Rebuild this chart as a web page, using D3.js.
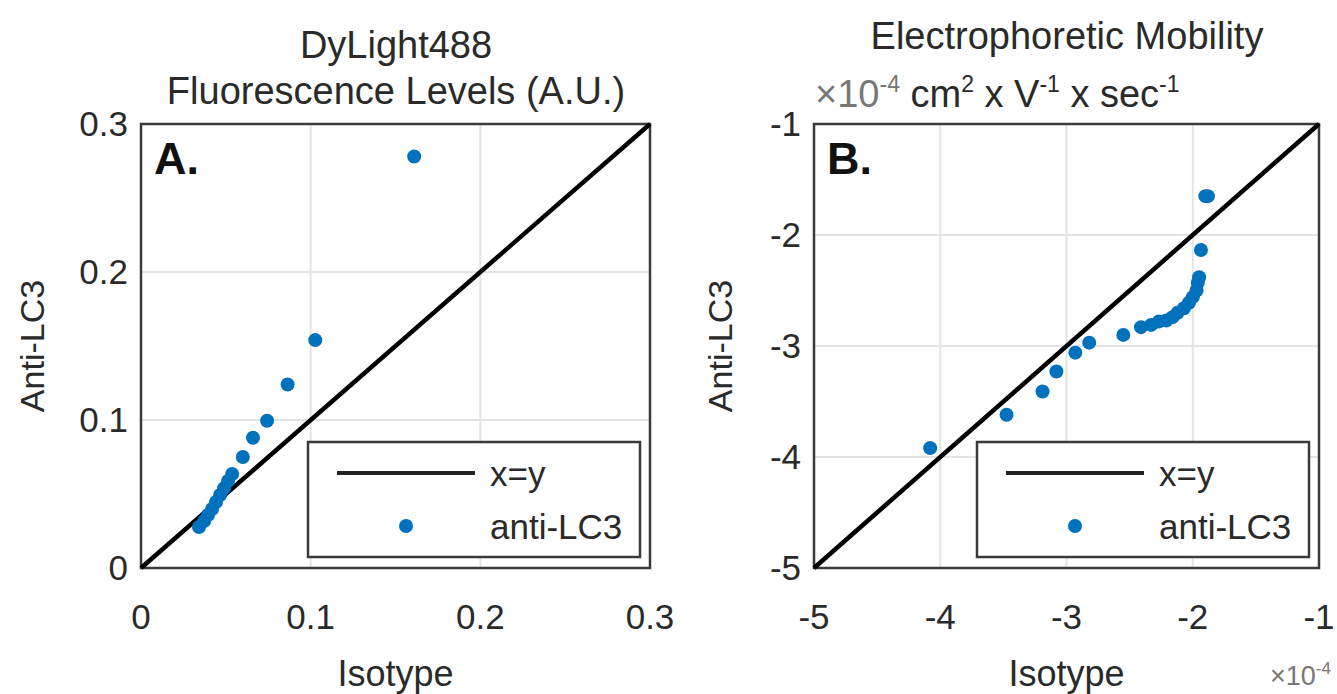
<!DOCTYPE html>
<html>
<head>
<meta charset="utf-8">
<script src="https://cdn.jsdelivr.net/npm/d3@7"></script>
<style>
  body { margin: 0; background: #fff; }
  text { font-family: "Liberation Sans", Arial, sans-serif; fill: #2a2a2a; }
</style>
</head>
<body>
<script>
// panel A: DyLight488 fluorescence
var isoA  = [0.161, 0.1027, 0.0864, 0.0743, 0.066, 0.060, 0.0537, 0.0513, 0.049, 0.0466, 0.0442, 0.0419, 0.0395, 0.0372, 0.0342];
var antiA = [0.278, 0.154, 0.124, 0.0995, 0.088, 0.075, 0.0635, 0.0588, 0.054, 0.0493, 0.0446, 0.0399, 0.0358, 0.0318, 0.0277];
var ticksA = [0, 0.1, 0.2, 0.3];
var tickLabelsA = ["0", "0.1", "0.2", "0.3"];

// panel B: electrophoretic mobility (x 10^-4)
var isoB  = [-4.08, -3.475, -3.19, -3.08, -2.93, -2.82, -2.55, -2.41, -2.33, -2.27, -2.21, -2.16, -2.12, -2.07, -2.03, -2.00, -1.97, -1.96, -1.95, -1.935, -1.90, -1.88];
var antiB = [-3.92, -3.62, -3.41, -3.23, -3.06, -2.97, -2.90, -2.83, -2.81, -2.78, -2.77, -2.74, -2.70, -2.66, -2.61, -2.56, -2.50, -2.43, -2.38, -2.135, -1.65, -1.65];
var ticksB = [-5, -4, -3, -2, -1];
var tickLabelsB = ["-5", "-4", "-3", "-2", "-1"];

var legendLabels = ["x=y", "anti-LC3"];

var W = 1337, H = 694;
var svg = d3.select("body").append("svg")
    .attr("width", W)
    .attr("height", H);

var plotTop = 124, plotBottom = 568;
var fs = 35;

function panel(opt) {
  var x = d3.scaleLinear().domain(opt.domain).range([opt.left, opt.right]);
  var y = d3.scaleLinear().domain(opt.domain).range([plotBottom, plotTop]);
  var g = svg.append("g");

  // grid
  g.selectAll(".gx").data(opt.ticks.slice(1, -1)).enter().append("line")
    .attr("x1", function(d) { return x(d); }).attr("x2", function(d) { return x(d); })
    .attr("y1", plotTop).attr("y2", plotBottom)
    .attr("stroke", "#e4e4e4").attr("stroke-width", 2);
  g.selectAll(".gy").data(opt.ticks.slice(1, -1)).enter().append("line")
    .attr("y1", function(d) { return y(d); }).attr("y2", function(d) { return y(d); })
    .attr("x1", opt.left).attr("x2", opt.right)
    .attr("stroke", "#e4e4e4").attr("stroke-width", 2);

  // axes box
  g.append("rect")
    .attr("x", opt.left).attr("y", plotTop)
    .attr("width", opt.right - opt.left).attr("height", plotBottom - plotTop)
    .attr("fill", "none").attr("stroke", "#3a3a3a").attr("stroke-width", 2.5);

  // tick labels
  g.selectAll(".tx").data(opt.ticks).enter().append("text")
    .attr("x", function(d) { return x(d); })
    .attr("y", 629)
    .attr("text-anchor", "middle")
    .attr("font-size", fs)
    .text(function(d, i) { return opt.labels[i]; });
  g.selectAll(".ty").data(opt.ticks).enter().append("text")
    .attr("x", opt.left - 13)
    .attr("y", function(d) { return y(d) + 12; })
    .attr("text-anchor", "end")
    .attr("font-size", fs)
    .text(function(d, i) { return opt.labels[i]; });

  // axis labels
  g.append("text")
    .attr("x", (opt.left + opt.right) / 2).attr("y", 686)
    .attr("text-anchor", "middle").attr("font-size", 36)
    .text("Isotype");
  g.append("text")
    .attr("transform", "translate(" + (opt.left - opt.ylabOff) + "," + ((plotTop + plotBottom) / 2) + ") rotate(-90)")
    .attr("text-anchor", "middle").attr("font-size", 34)
    .text("Anti-LC3");

  // panel letter
  g.append("text")
    .attr("x", opt.left + 13).attr("y", plotTop + 50)
    .attr("font-size", 45).attr("font-weight", "bold")
    .style("fill", "#111")
    .text(opt.letter);

  // x=y line
  var line = d3.line()
    .x(function(d) { return x(d); })
    .y(function(d) { return y(d); });
  g.append("path")
    .attr("d", line(opt.domain))
    .attr("fill", "none").attr("stroke", "#000").attr("stroke-width", 4.5);

  // points
  g.selectAll(".pt").data(opt.xs).enter().append("circle")
    .attr("cx", function(d) { return x(d); })
    .attr("cy", function(d, i) { return y(opt.ys[i]); })
    .attr("r", 7)
    .attr("fill", "#0072BD");

  // legend
  var lx = opt.right - 342, ly = plotBottom - 126;
  var lg = g.append("g").attr("transform", "translate(" + lx + "," + ly + ")");
  lg.append("rect").attr("width", 332).attr("height", 115)
    .attr("fill", "#fff").attr("stroke", "#3a3a3a").attr("stroke-width", 2.5);
  lg.append("line").attr("x1", 29).attr("x2", 167).attr("y1", 31).attr("y2", 31)
    .attr("stroke", "#222").attr("stroke-width", 4);
  lg.append("circle").attr("cx", 98).attr("cy", 84).attr("r", 7).attr("fill", "#0072BD");
  lg.selectAll(".lt").data(legendLabels).enter().append("text")
    .attr("x", 182)
    .attr("y", function(d, i) { return 44 + i * 53; })
    .attr("font-size", fs)
    .text(function(d) { return d; });

  return g;
}

panel({domain: [0, 0.3], left: 141, right: 650, ticks: ticksA, labels: tickLabelsA,
       xs: isoA, ys: antiA, letter: "A.", ylabOff: 97});
panel({domain: [-5, -1], left: 814, right: 1319, ticks: ticksB, labels: tickLabelsB,
       xs: isoB, ys: antiB, letter: "B.", ylabOff: 82});

// titles
svg.append("text").attr("x", 396).attr("y", 58).attr("text-anchor", "middle")
  .attr("font-size", 38).text("DyLight488");
svg.append("text").attr("x", 396).attr("y", 104).attr("text-anchor", "middle")
  .attr("font-size", 38).text("Fluorescence Levels (A.U.)");
svg.append("text").attr("x", 1067).attr("y", 49).attr("text-anchor", "middle")
  .attr("font-size", 38).text("Electrophoretic Mobility");

var t2 = svg.append("text").attr("x", 815).attr("y", 107).attr("font-size", 38);
t2.append("tspan").style("fill", "#777").text("\u00d710");
t2.append("tspan").attr("dy", -15).attr("font-size", 23).style("fill", "#777").text("-4");
t2.append("tspan").attr("dy", 15).text(" cm");
t2.append("tspan").attr("dy", -15).attr("font-size", 23).text("2");
t2.append("tspan").attr("dy", 15).text(" x V");
t2.append("tspan").attr("dy", -15).attr("font-size", 23).text("-1");
t2.append("tspan").attr("dy", 15).text(" x sec");
t2.append("tspan").attr("dy", -15).attr("font-size", 23).text("-1");

// exponent label under the B x axis
var t3 = svg.append("text").attr("x", 1270).attr("y", 685).attr("font-size", 27);
t3.append("tspan").style("fill", "#777").text("\u00d710");
t3.append("tspan").attr("dy", -11).attr("font-size", 17).style("fill", "#777").text("-4");
</script>
</body>
</html>
